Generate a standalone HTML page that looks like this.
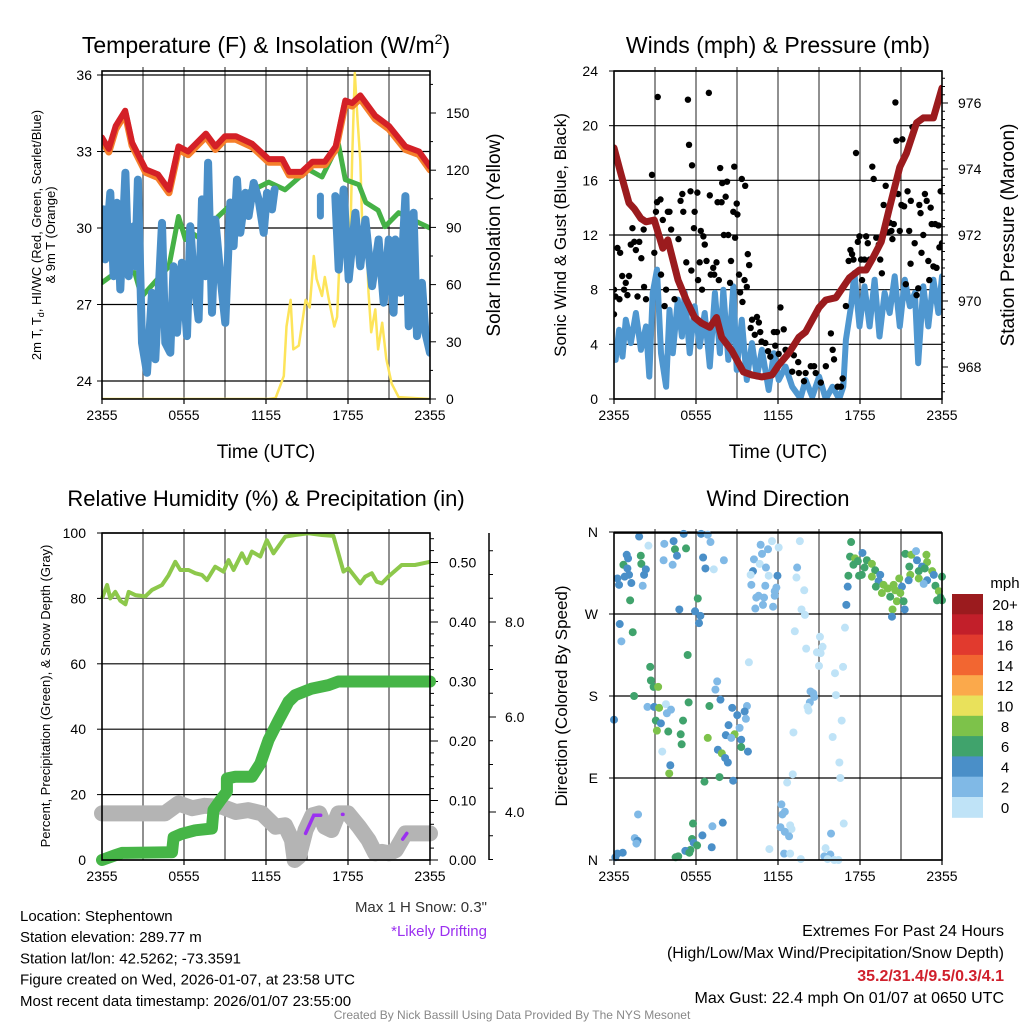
<!DOCTYPE html>
<html><head><meta charset="utf-8"><style>
html,body{margin:0;padding:0;background:#fff;}
svg{display:block;font-family:"Liberation Sans",Arial,sans-serif;}
</style></head><body>
<svg id="c" width="1024" height="1024" viewBox="0 0 1024 1024"></svg>
<script>
// ---------- DATA ----------
const redH=[0,0.5,1,1.7,2.2,3.2,4.1,4.9,5.6,6.3,7.6,8.3,9,9.8,11,12.2,13.2,13.7,14.6,15.4,16.3,17.1,17.8,18.3,18.9,20,21,22.2,23.2,24];
const redT=[33.55,33.1,34,34.6,33.35,32.3,32.1,31.5,33.2,33.0,33.7,33.2,33.6,33.6,33.3,32.7,32.7,32.2,32.2,32.6,32.6,33.2,35.0,34.9,35.2,34.4,34.0,33.2,33.0,32.4];
const greenH=[0,1,2.4,2.9,4.9,5.6,6.1,6.3,7.3,8.5,9.3,10.7,12.2,13.4,15.1,16.1,17.3,17.8,18.8,19.3,20.2,20.7,21.7,23.2,24];
const greenT=[27.86,28.25,28.25,27.3,28.5,30.45,29.55,29.9,29.55,30.45,30.85,31.4,31.8,31.5,32.3,32.0,33.3,31.9,31.7,31.0,30.7,30.05,30.6,30.2,30.0];
const blueH=[0.12,0.24,0.61,0.85,1.1,1.34,1.71,1.95,2.32,2.44,2.63,2.93,3.29,3.66,3.9,4.39,4.63,5,5.24,5.49,5.85,6.22,6.46,6.71,7.07,7.32,7.56,7.76,8.05,8.29,8.66,9.02,9.39,9.63,9.88,10.12,10.49,10.73,11.1,11.46,11.83,12.07,12.44,12.63,null,17.07,17.32,17.68,18.05,18.54,18.9,19.27,19.76,20.24,20.61,20.98,21.34,21.46,21.83,22.2,22.44,22.8,23.05,23.41,23.66,24];
const blueT=[30.73,28.77,31.38,28.11,30.99,27.59,32.17,28.11,30.07,28.5,31.9,25.5,24.32,27.46,24.85,30.2,25.5,25.11,28.5,25.89,28.64,25.76,30.07,28.11,26.41,31.12,28.11,32.56,26.68,30.33,28.11,26.28,31.0,29.29,31.9,29.81,31.38,30.47,31.77,31.12,29.81,31.38,30.73,31.51,null,31.25,28.37,31.51,27.98,30.6,28.5,30.33,27.72,29.55,27.07,29.55,26.68,29.55,27.46,31.25,26.15,30.6,25.76,27.85,25.89,25.11];
const blueIsoH=[15.98,15.98];
const blueIsoT=[31.25,30.47];
const solarH=[0,12.2,12.7,13.3,13.5,13.8,14.0,14.4,14.9,15.2,15.5,15.7,16.1,16.3,16.6,17.0,17.2,17.6,17.8,18.1,18.3,18.5,18.7,18.9,19.1,19.3,19.5,19.7,20.0,20.2,20.5,20.8,21.2,21.7,24];
const solarV=[0,0,0.5,12,38,52,26,28,52,48,75,63,54,64,52,38,43,110,94,63,125,171,146,125,78,94,56,35,47,26,40,21,8,1,0];
const presH=[0,0.49,1.1,1.48,1.97,2.34,2.95,3.32,3.57,3.94,4.68,5.29,5.9,6.4,7.01,7.5,7.87,8.61,9.47,10.09,10.82,11.56,12.05,12.79,13.53,14.02,15.0,15.5,16.24,17.22,17.96,18.45,18.94,19.56,20.17,20.91,21.4,22.14,22.63,23.37,24];
const presV=[974.64,973.88,972.97,972.8,972.5,972.4,972.45,971.94,971.6,971.85,970.64,970.03,969.5,969.33,969.2,969.5,968.9,968.5,967.85,967.76,967.7,967.76,968.06,968.42,968.9,969.06,969.8,970.03,970.1,970.7,970.94,970.94,971.3,971.8,972.85,974.06,974.48,975.4,975.55,975.55,976.45];
const windH=[0,0.12,0.37,0.62,0.86,1.23,1.6,1.97,2.34,2.58,2.83,3.15,3.44,3.81,4.06,4.3,4.67,4.97,5.17,5.54,5.9,6.27,6.64,7.01,7.38,7.75,8.0,8.36,8.73,8.98,9.35,9.72,10.09,10.46,10.82,11.32,11.69,12.05,12.55,13.04,13.65,14.02,14.51,15.01,15.5,15.99,16.48,16.78,16.97,17.34,17.59,17.96,18.33,18.7,19.07,19.43,19.8,20.17,20.54,20.91,21.28,21.65,22.02,22.26,22.63,23.0,23.37,23.74,24];
const windV=[4.09,2.86,5.06,3.1,5.8,4.09,6.29,3.6,5.31,1.64,7.76,9.47,3.35,0.9,6.53,3.35,7.27,4.57,7.76,3.35,6.78,3.84,6.29,2.37,7.76,3.35,8.0,2.86,8.24,2.13,5.8,1.39,4.09,1.64,3.6,0.66,3.35,1.39,2.37,0.9,0.05,1.39,0.17,1.64,0,0.9,0,0.9,4.33,6.78,9.22,5.31,8.24,5.31,8.73,4.57,7.76,6.29,8.98,5.31,8.73,6.78,7.76,2.62,8.24,5.31,8.73,6.29,8.98];
const gustH=[0,0,0.1,0.25,0.4,0.45,0.6,0.74,0.86,0.98,1.1,1.23,1.35,1.48,1.6,1.72,1.85,2.0,2.17,2.2,2.34,2.78,2.95,3.07,3.15,3.2,3.4,3.44,3.57,3.7,3.81,3.94,4.06,4.18,4.43,4.72,4.87,5.0,5.07,5.29,5.41,5.49,5.6,5.71,5.66,5.85,5.9,6.1,6.15,6.27,6.35,6.44,6.54,6.64,6.77,6.94,7.01,7.08,7.26,7.33,7.5,7.58,7.67,7.77,7.87,7.92,8.04,8.17,8.27,8.36,8.49,8.56,8.73,8.8,8.86,8.98,9.03,9.15,9.23,9.35,9.4,9.55,9.6,9.72,9.79,9.89,10.0,10.1,10.3,10.46,10.6,10.7,10.8,11.07,11.27,11.44,11.7,11.8,11.93,12.05,12.18,12.42,12.55,12.8,13.04,13.16,13.48,13.53,13.9,14.02,14.4,14.64,14.76,15.13,15.5,15.87,16.0,16.1,16.36,16.6,16.73,16.97,17.17,17.3,17.42,17.52,17.71,17.84,17.96,18.08,18.15,18.33,18.45,18.57,18.7,18.9,19.0,19.19,19.38,19.48,19.6,19.73,19.88,20.05,20.17,20.3,20.37,20.47,20.59,20.66,20.79,20.91,21.03,21.1,21.23,21.35,21.48,21.6,21.72,21.7,21.84,22.0,22.14,22.26,22.34,22.43,22.5,22.63,22.75,22.88,23.0,23.07,23.17,23.25,23.37,23.5,23.6,23.74,23.81,23.9,24.0];
const gustV=[8.0,6.2,7.5,11.05,7.3,10.7,9.0,8.0,8.5,7.6,9.0,11.3,12.5,11.5,10.9,7.5,11.5,10.3,12.4,8.2,7.3,16.4,10.7,13.7,14.4,22.1,14.6,9.1,13.1,6.8,8.0,13.7,13.7,12.4,7.3,11.7,14.5,15.0,13.7,10.0,21.9,18.6,15.2,17.1,9.4,12.5,13.7,15.1,8.7,10.0,12.3,8.0,11.9,11.3,10.1,22.4,14.9,9.1,9.6,9.1,10.0,14.4,8.7,16.9,14.4,15.8,12.0,14.8,15.9,12.0,8.5,10.1,13.7,17.0,11.8,14.3,13.5,9.1,7.8,16.1,7.1,8.7,15.6,8.2,10.6,9.8,5.2,5.8,4.7,6.0,5.6,4.9,4.2,4.1,3.5,3.1,4.9,3.9,4.9,3.3,6.7,5.1,3.6,3.4,2.0,3.2,2.7,1.9,1.3,1.9,2.4,2.4,1.9,1.2,2.4,4.8,3.6,2.9,0.9,0.9,1.5,6.8,10.1,10.9,10.6,10.2,18.0,11.5,11.9,10.2,8.7,10.2,11.9,11.4,10.2,17.0,16.1,11.8,11.3,10.2,9.2,14.2,15.6,12.2,12.9,12.3,11.7,12.8,21.7,18.9,15.0,12.3,14.2,19.0,14.1,8.4,15.2,12.3,14.5,9.9,19.9,11.4,7.6,8.1,14.2,13.6,10.7,12.0,15.0,14.5,10.1,8.7,14.0,12.8,9.7,12.8,9.6,12.7,11.1,15.2,11.4];
const rhH=[0,0.37,0.61,0.97,1.34,1.71,1.95,2.44,3.17,3.66,4.39,4.87,5.36,5.73,6.34,6.82,7.31,7.68,8.28,8.89,9.26,9.63,10.24,10.6,10.97,11.58,12.06,12.55,13.41,14.13,15.11,16.08,16.93,17.67,18.03,18.89,19.25,19.74,20.1,20.47,20.96,21.93,22.9,24];
const rhV=[80.0,84.1,80.0,82.0,79.3,78.2,82.0,81.0,80.6,82.6,84.1,87.1,91.2,88.7,88.7,87.7,87.2,85.6,89.7,88.2,91.7,88.7,93.8,90.8,94.3,92.8,97.8,93.8,98.9,99.4,99.9,99.4,99.1,88.2,89.2,84.6,86.6,87.7,85.1,84.6,86.7,90.2,90.2,91.2];
const precipH=[0,0.97,1.46,5.12,5.24,5.85,6.82,8.04,8.16,8.65,9.14,9.14,9.75,10.97,11.58,12.19,12.92,13.65,14.13,15.35,16.57,17.3,24];
const precipV=[0,0.008,0.012,0.013,0.038,0.044,0.05,0.053,0.084,0.1,0.115,0.137,0.14,0.14,0.162,0.202,0.235,0.266,0.277,0.288,0.294,0.3,0.3];
const snowH=[0,4.6,5.6,6.6,7.5,8.8,9.8,10.7,11.7,12.7,13.4,13.9,14.1,14.4,14.9,15.4,15.9,16.3,16.8,17.3,18.0,18.8,19.5,20.0,20.5,21.0,21.5,22.2,22.9,24];
const snowV=[3.97,3.97,4.18,4.08,4.13,4.11,4.0,4.04,3.97,3.69,3.72,3.41,2.99,3.06,3.62,3.93,3.97,3.69,3.62,3.97,3.97,3.69,3.41,3.13,3.16,3.13,3.2,3.55,3.55,3.55];
const driftA_H=[14.9,15.5,16.0];
const driftA_V=[3.55,3.93,3.93];
const driftB_H=[17.6];
const driftB_V=[3.95];
const driftC_H=[22.0,22.3];
const driftC_V=[3.43,3.55];
const dirH=[1.84,2.52,.93,1.03,1.96,.69,.98,2.0,2.33,2.2,.25,1.1,.78,.37,1.27,2.1,1.18,3.68,4.36,4.46,5.27,4.61,5.1,3.63,4.29,6.37,6.86,7.06,6.52,6.69,7.3,8.04,6.13,4.78,5.93,6.32,6.22,
10.73,11.56,12.05,11.27,10.83,10.24,10.66,10.17,11.12,10.0,11.32,11.96,10.05,11.07,11.88,11.76,11.76,10.58,10.41,10.98,10.9,11.64,10.34,13.6,13.4,13.35,13.92,13.72,13.97,
17.35,18.18,17.27,17.64,17.52,17.84,18.5,18.87,18.33,19.11,18.13,17.15,17.93,18.87,19.48,19.36,19.16,19.72,20.04,19.6,20.21,20.46,20.58,20.87,21.07,20.95,20.7,21.19,20.38,20.34,21.27,17.1,17.0,
21.32,21.76,22.1,22.17,22.86,22.91,22.54,21.61,22.3,22.74,23.28,23.4,21.68,22.3,21.56,22.91,23.52,24,22.66,23.77,23.89,23.64,24,
.42,1.37,.54,5.39,2.65,2.7,2.9,3.23,1.47,2.45,2.94,3.3,3.8,4.17,3.87,0,3.06,3.43,5.05,3.14,3.97,4.88,4.95,3.53,4.12,4.04,5.46,6.98,7.55,7.42,7.79,8.65,9.73,9.02,9.56,9.65,8.38,9.19,8.18,8.82,8.58,9.31,6.86,9.31,7.6,7.89,8.13,8.33,9.8,6.62,7.72,8.72,
13.23,15.07,16.9,15.26,14.06,14.85,15.12,9.87,15.0,16.76,16.17,16.24,14.38,14.58,14.65,14.33,14.16,14.23,16.66,13.13,16.0,16.49,13.08,12.67,16.56,
1.76,12.25,12.5,12.32,12.89,12.18,12.99,12.5,12.81,16.81,15.88,5.78,7.2,7.96,6.47,1.52,1.72,1.64,5.71,5.83,6.08,7.15,5.59,5.22,5.51,4.7,4.51,11.37,12.45,12.89,13.67,15.48,15.83,15.39,15.63,16.12,16.42,.25,.64,.1];
const dirDeg=[355,345,335,331,334,324,320,325,319,313,309,313,311,302,304,301,285,347,350,341,342,334,358,329,324,358,357,349,332,320,319,329,287,275,273,268,260,
346,350,343,341,336,330,325,317,321,313,312,312,302,301,299,295,290,290,288,288,280,278,276,350,321,310,296,275,269,
349,337,333,331,324,328,329,325,321,318,313,312,312,311,313,306,300,302,298,293,289,302,296,309,300,293,284,284,275,267,275,300,280,
336,335,339,329,335,327,322,322,317,320,317,313,313,309,307,307,301,311,303,295,288,285,285,
259,250,240,225,212,197,190,190,180,168,168,167,171,165,161,154,153,150,153,142,141,138,127,119,104,95,173,169,196,187,176,167,169,159,163,155,148,145,137,138,134,132,134,124,121,117,112,107,119,86,91,87,
251,245,255,234,232,228,227,217,213,212,205,181,185,183,179,173,168,164,153,140,135,107,94,85,90,
50,61,53,50,38,36,34,31,26,40,29,40,37,41,27,24,21,18,23,19,16,14,11,10,8,4,3,12,7,7,1,13,6,4,1,0,0,7,8,3];
const dirSpd=[4.5,1,4.5,4.5,6.5,6.5,4.5,6.5,4.5,4.5,4.5,4.5,4.5,4.5,4.5,3,6.5,3,4.5,6.5,6.5,4.5,4.5,3,3,4.5,3,3,4.5,4.5,1,3,6.5,4.5,4.5,4.5,4.5,
3,1,1,3,3,3,1,4.5,3,1,1,4.5,3,3,3,3,3,3,3,3,3,3,3,1,3,1,1,1,1,
6.5,4.5,6.5,8.5,6.5,6.5,6.5,8.5,6.5,6.5,6.5,6.5,6.5,8.5,4.5,4.5,6.5,8.5,8.5,8.5,6.5,8.5,8.5,8.5,4.5,8.5,8.5,6.5,8.5,4.5,4.5,4.5,4.5,
6.5,8.5,3,4.5,8.5,8.5,4.5,6.5,6.5,6.5,8.5,4.5,8.5,8.5,4.5,4.5,6.5,6.5,3,8.5,6.5,6.5,6.5,
4.5,6.5,3,6.5,6.5,6.5,6.5,8.5,6.5,3,4.5,8.5,1,3,3,4.5,6.5,4.5,6.5,8.5,6.5,6.5,6.5,1,4.5,8.5,6.5,6.5,3,3,4.5,4.5,3,4.5,4.5,3,4.5,3,4.5,8.5,3,4.5,8.5,6.5,4.5,8.5,4.5,4.5,4.5,6.5,6.5,4.5,
1,1,1,1,1,1,1,1,1,1,1,1,3,3,3,3,1,1,1,1,1,1,1,1,1,
3,3,3,3,1,3,1,3,3,1,3,6.5,3,4.5,4.5,3,4.5,3,6.5,4.5,6.5,4.5,6.5,4.5,6.5,6.5,6.5,1,3,1,1,1,3,3,1,1,1,4.5,4.5,4.5];
const cbLabels=["20+","18","16","14","12","10","8","6","4","2","0"];
const cbColors=["#9b1b1e","#c21f2a","#e13a2e","#f26631","#fba94b","#e9e15b","#7dc24a","#40a36c","#4a8fc8","#80b9e6","#bfe3f7"];
const timeLabels=["2355","0555","1155","1755","2355"];
const tempTicks=[24,27,30,33,36];
const solarTicks=[0,30,60,90,120,150];
const windTicks=[0,4,8,12,16,20,24];
const presTicks=[968,970,972,974,976];
const rhTicks=[0,20,40,60,80,100];
const precipTicks=[0,0.1,0.2,0.3,0.4,0.5];
const snowTicks=[4,6,8];
const dirTicks=["N","E","S","W","N"];

// ---------- RENDER ----------
const NS="http://www.w3.org/2000/svg";
const svg=document.getElementById('c');
function mk(tag,at,parent){const e=document.createElementNS(NS,tag);for(const k in at)e.setAttribute(k,at[k]);(parent||svg).appendChild(e);return e;}
function txt(s,x,y,size,anchor,parent,extra){const t=mk('text',Object.assign({x:x,y:y,'font-size':size,'text-anchor':anchor||'middle',fill:'#000'},extra||{}),parent);t.textContent=s;return t;}
function grp(name){const g=mk('g',{});return g;}
function pathOf(H,V,sx,sy){let d='',pen=false;for(let i=0;i<H.length;i++){if(H[i]===null||V[i]===null){pen=false;continue;}d+=(pen?'L':'M')+sx(H[i]).toFixed(1)+' '+sy(V[i]).toFixed(1);pen=true;}return d;}

function panel(name,x0,x1,y0,y1){
  const g=grp(name);
  const sx=h=>x0+h*(x1-x0)/24;
  for(let k=1;k<8;k++){const x=x0+k*(x1-x0)/8;mk('line',{x1:x,y1:y0-4,x2:x,y2:y1,stroke:'#555','stroke-width':1.3},g);}
  for(let k=0;k<=4;k++){const x=x0+k*(x1-x0)/4;mk('line',{x1:x,y1:y1,x2:x,y2:y1+5,stroke:'#000','stroke-width':1.2},g);
    const t=txt(timeLabels[k],x,y1+21,14,'middle',g);}
  return {g,sx};
}
function box(g,x0,x1,y0,y1){mk('rect',{x:x0,y:y0,width:x1-x0,height:y1-y0,fill:'none',stroke:'#000','stroke-width':1.6},g);}

// Panel 1
(function(){
  const x0=102,x1=430,y0=71,y1=399;
  const {g,sx}=panel('temperature-panel',x0,x1,y0,y1);
  const ty=t=>381-(t-24)*76.5/3, sy=s=>399-s*286/150;
  tempTicks.forEach(t=>{mk('line',{x1:x0,y1:ty(t),x2:x1,y2:ty(t),stroke:'#000','stroke-width':1.2},g);mk('line',{x1:x0-5,y1:ty(t),x2:x0,y2:ty(t),stroke:'#000'},g);
    const l=txt(String(t),x0-10,ty(t)+5,14,'end',g);});
  solarTicks.forEach(s=>{mk('line',{x1:x1,y1:sy(s),x2:x1+6,y2:sy(s),stroke:'#000'},g);if(sy(s+15)>=y0)mk('line',{x1:x1,y1:sy(s+15),x2:x1+3,y2:sy(s+15),stroke:'#000'},g);
    const l=txt(String(s),x1+16,sy(s)+5,14,'start',g);});
  const cl=mk('clipPath',{id:'cp1'},g);mk('rect',{x:x0,y:y0,width:x1-x0,height:y1-y0},cl);
  const d=mk('g',{'clip-path':'url(#cp1)'},g);
  let p;
  p=mk('path',{d:pathOf(solarH,solarV,sx,sy),fill:'none',stroke:'#fde45a','stroke-width':2.5,'stroke-linejoin':'round'},d);
  p=mk('path',{d:pathOf(greenH,greenT,sx,ty),fill:'none',stroke:'#45b146','stroke-width':5,'stroke-linejoin':'round','stroke-linecap':'round'},d);
  p=mk('path',{d:pathOf(blueH,blueT,sx,ty),fill:'none',stroke:'#4a8fc8','stroke-width':8,'stroke-linejoin':'round','stroke-linecap':'round'},d);
  p=mk('path',{d:pathOf(blueIsoH,blueIsoT,sx,ty),fill:'none',stroke:'#4a8fc8','stroke-width':7,'stroke-linecap':'round'},d);
  p=mk('path',{d:pathOf(redH,redT.map(v=>v-0.12),sx,ty),fill:'none',stroke:'#f57f2b','stroke-width':7,'stroke-linejoin':'round','stroke-linecap':'round'},d);
  p=mk('path',{d:pathOf(redH,redT,sx,ty),fill:'none',stroke:'#d42027','stroke-width':6,'stroke-linejoin':'round','stroke-linecap':'round'},d);
  box(g,x0,x1,y0,y1);
  let t=txt('',266,53,23,'middle',g);t.innerHTML='Temperature (F) &amp; Insolation (W/m<tspan dy="-9" font-size="14">2</tspan><tspan dy="9">)</tspan>';
  t=txt('Time (UTC)',266,458,19,'middle',g);
  t=txt('',0,0,13,'middle',g,{transform:'translate(41,235) rotate(-90)'});t.innerHTML='2m T, T<tspan dy="3" font-size="9">d</tspan><tspan dy="-3">, HI/WC (Red, Green, Scarlet/Blue)</tspan>';
  t=txt('& 9m T (Orange)',0,0,13,'middle',g,{transform:'translate(55,235) rotate(-90)'});
  t=txt('Solar Insolation (Yellow)',0,0,19,'middle',g,{transform:'translate(500,235) rotate(-90)'});
})();

// Panel 2
(function(){
  const x0=614,x1=942,y0=71,y1=399;
  const {g,sx}=panel('winds-panel',x0,x1,y0,y1);
  const wy=v=>399-v*328/24, py=p=>103+(976-p)*33;
  windTicks.forEach(v=>{mk('line',{x1:x0,y1:wy(v),x2:x1,y2:wy(v),stroke:'#000','stroke-width':1.2},g);mk('line',{x1:x0-5,y1:wy(v),x2:x0,y2:wy(v),stroke:'#000'},g);
    const l=txt(String(v),x0-16,wy(v)+5,14,'end',g);});
  presTicks.forEach(p=>{mk('line',{x1:x1,y1:py(p),x2:x1+6,y2:py(p),stroke:'#000'},g);
    for(let m=0.25;m<2;m+=0.25){const yy=py(p+m);if(yy>=y0)mk('line',{x1:x1,y1:yy,x2:x1+3,y2:yy,stroke:'#000'},g);}
    const l=txt(String(p),x1+16,py(p)+5,14,'start',g);});
  for(let m=0.25;m<1;m+=0.25){mk('line',{x1:x1,y1:py(968-m),x2:x1+3,y2:py(968-m),stroke:'#000'},g);}
  const cl=mk('clipPath',{id:'cp2'},g);mk('rect',{x:x0,y:y0,width:x1-x0,height:y1-y0},cl);
  const d=mk('g',{'clip-path':'url(#cp2)'},g);
  let p=mk('path',{d:pathOf(windH,windV,sx,wy),fill:'none',stroke:'#4f97d0','stroke-width':6,'stroke-linejoin':'round','stroke-linecap':'round'},d);
  const gg=mk('g',{},d);
  gustH.forEach((h,i)=>{mk('circle',{cx:sx(h),cy:wy(gustV[i]),r:3.2,fill:'#000'},gg);});
  p=mk('path',{d:pathOf(presH,presV,sx,py),fill:'none',stroke:'#9b1b1e','stroke-width':7,'stroke-linejoin':'round','stroke-linecap':'round'},d);
  box(g,x0,x1,y0,y1);
  let t=txt('Winds (mph) & Pressure (mb)',778,53,23,'middle',g);
  t=txt('Time (UTC)',778,458,19,'middle',g);
  t=txt('Sonic Wind & Gust (Blue, Black)',0,0,17,'middle',g,{transform:'translate(566,235) rotate(-90)'});
  t=txt('Station Pressure (Maroon)',0,0,19,'middle',g,{transform:'translate(1014,235) rotate(-90)'});
})();

// Panel 3
(function(){
  const x0=102,x1=430,y0=533,y1=860;
  const {g,sx}=panel('humidity-precip-panel',x0,x1,y0,y1);
  const ry=r=>860-r*3.27, qy=q=>860-q*595, sy=s=>812-(s-4)*47.5;
  rhTicks.forEach(r=>{mk('line',{x1:x0,y1:ry(r),x2:x1,y2:ry(r),stroke:r===80?'#666':'#000','stroke-width':1.2},g);mk('line',{x1:x0-5,y1:ry(r),x2:x0,y2:ry(r),stroke:'#000'},g);
    const l=txt(String(r),x0-16,ry(r)+5,14,'end',g);});
  precipTicks.forEach(q=>{mk('line',{x1:x1,y1:qy(q),x2:x1+8,y2:qy(q),stroke:'#000'},g);
    for(let m=0.02;m<0.1;m+=0.02)if(q+m<0.55)mk('line',{x1:x1,y1:qy(q+m),x2:x1+4,y2:qy(q+m),stroke:'#000'},g);
    const l=txt(q.toFixed(2),x1+19,qy(q)+5,14,'start',g);});
  mk('line',{x1:489,y1:y0,x2:489,y2:y1,stroke:'#000','stroke-width':1.5},g);
  for(let s=3;s<=9.9;s+=0.5){const y=sy(s);if(y<y0||y>y1)continue;mk('line',{x1:489,y1:y,x2:(s%2===0)?496:493,y2:y,stroke:'#000'},g);}
  snowTicks.forEach(s=>{const l=txt(s.toFixed(1),505,sy(s)+5,14,'start',g);});
  const cl=mk('clipPath',{id:'cp3'},g);mk('rect',{x:x0-10,y:y0,width:x1-x0+20,height:y1-y0+20},cl);
  const d=mk('g',{'clip-path':'url(#cp3)'},g);
  let p=mk('path',{d:pathOf(snowH,snowV,sx,sy),fill:'none',stroke:'#b4b4b4','stroke-width':16,'stroke-linejoin':'round','stroke-linecap':'round'},d);
  p=mk('path',{d:pathOf(precipH,precipV,sx,qy),fill:'none',stroke:'#46b547','stroke-width':12,'stroke-linejoin':'round','stroke-linecap':'round'},d);
  p=mk('path',{d:pathOf(rhH,rhV,sx,ry),fill:'none',stroke:'#8dc84b','stroke-width':4,'stroke-linejoin':'round'},d);
  [[driftA_H,driftA_V],[driftB_H,driftB_V],[driftC_H,driftC_V]].forEach(([H,V])=>{
    const pp=mk('path',{d:pathOf(H,V,sx,sy)+(H.length===1?'h0.5':''),fill:'none',stroke:'#9b30f0','stroke-width':3.5,'stroke-linecap':'round'},d);});
  box(g,x0,x1,y0,y1);
  let t=txt('Relative Humidity (%) & Precipitation (in)',266,506,22,'middle',g);
  t=txt('Percent, Precipitation (Green), & Snow Depth (Gray)',0,0,13,'middle',g,{transform:'translate(50,696) rotate(-90)'});
})();

// Panel 4
(function(){
  const x0=614,x1=942,y0=533,y1=860;
  const {g,sx}=panel('wind-direction-panel',x0,x1,y0,y1);
  const dy=v=>860-v*328/360;
  dirTicks.forEach((s,i)=>{const y=dy(i*90);mk('line',{x1:x0,y1:y,x2:x1,y2:y,stroke:'#000','stroke-width':1.2},g);mk('line',{x1:x0-5,y1:y,x2:x0,y2:y,stroke:'#000'},g);
    const l=txt(s,x0-16,y+5,14,'end',g);});
  const dg=mk('g',{},g);
  dirH.forEach((h,i)=>{const s=dirSpd[i];const idx=s>=20?0:10-Math.floor(s/2);
    mk('circle',{cx:sx(h),cy:dy(dirDeg[i]),r:4,fill:cbColors[Math.max(0,Math.min(10,idx))]},dg);});
  box(g,x0,x1,y0,y1);
  let t=txt('Wind Direction',778,506,22,'middle',g);
  t=txt('Direction (Colored By Speed)',0,0,17,'middle',g,{transform:'translate(567,696) rotate(-90)'});
  const cb=grp('speed-colorbar');
  txt('mph',1005,588,15,'middle',cb);
  cbLabels.forEach((l,i)=>{const y=594+i*20.3;const r=mk('rect',{x:952,y:y,width:31,height:20.8,fill:cbColors[i]},cb);
    const tl=txt(l,1005,y+16,15,'middle',cb);});
})();

// Footer
(function(){
  const g=grp('footer');
  const lines=['Location: Stephentown','Station elevation: 289.77 m','Station lat/lon: 42.5262; -73.3591','Figure created on Wed, 2026-01-07, at 23:58 UTC','Most recent data timestamp: 2026/01/07 23:55:00'];
  lines.forEach((s,i)=>{const t=txt(s,20,921+i*21.2,15,'start',g);});
  let t=txt('Max 1 H Snow: 0.3"',487,912,15,'end',g,{fill:'#333'});
  t=txt('*Likely Drifting',487,936,15,'end',g,{fill:'#9b30f0'});
  t=txt('Extremes For Past 24 Hours',1004,936,16,'end',g);
  t=txt('(High/Low/Max Wind/Precipitation/Snow Depth)',1004,958,16,'end',g);
  t=txt('35.2/31.4/9.5/0.3/4.1',1004,981,16,'end',g,{fill:'#d0202c','font-weight':'bold'});
  t=txt('Max Gust: 22.4 mph On 01/07 at 0650 UTC',1004,1003,16,'end',g);
  t=txt('Created By Nick Bassill Using Data Provided By The NYS Mesonet',512,1019,12,'middle',g,{fill:'#888'});
})();
</script>
</body></html>
